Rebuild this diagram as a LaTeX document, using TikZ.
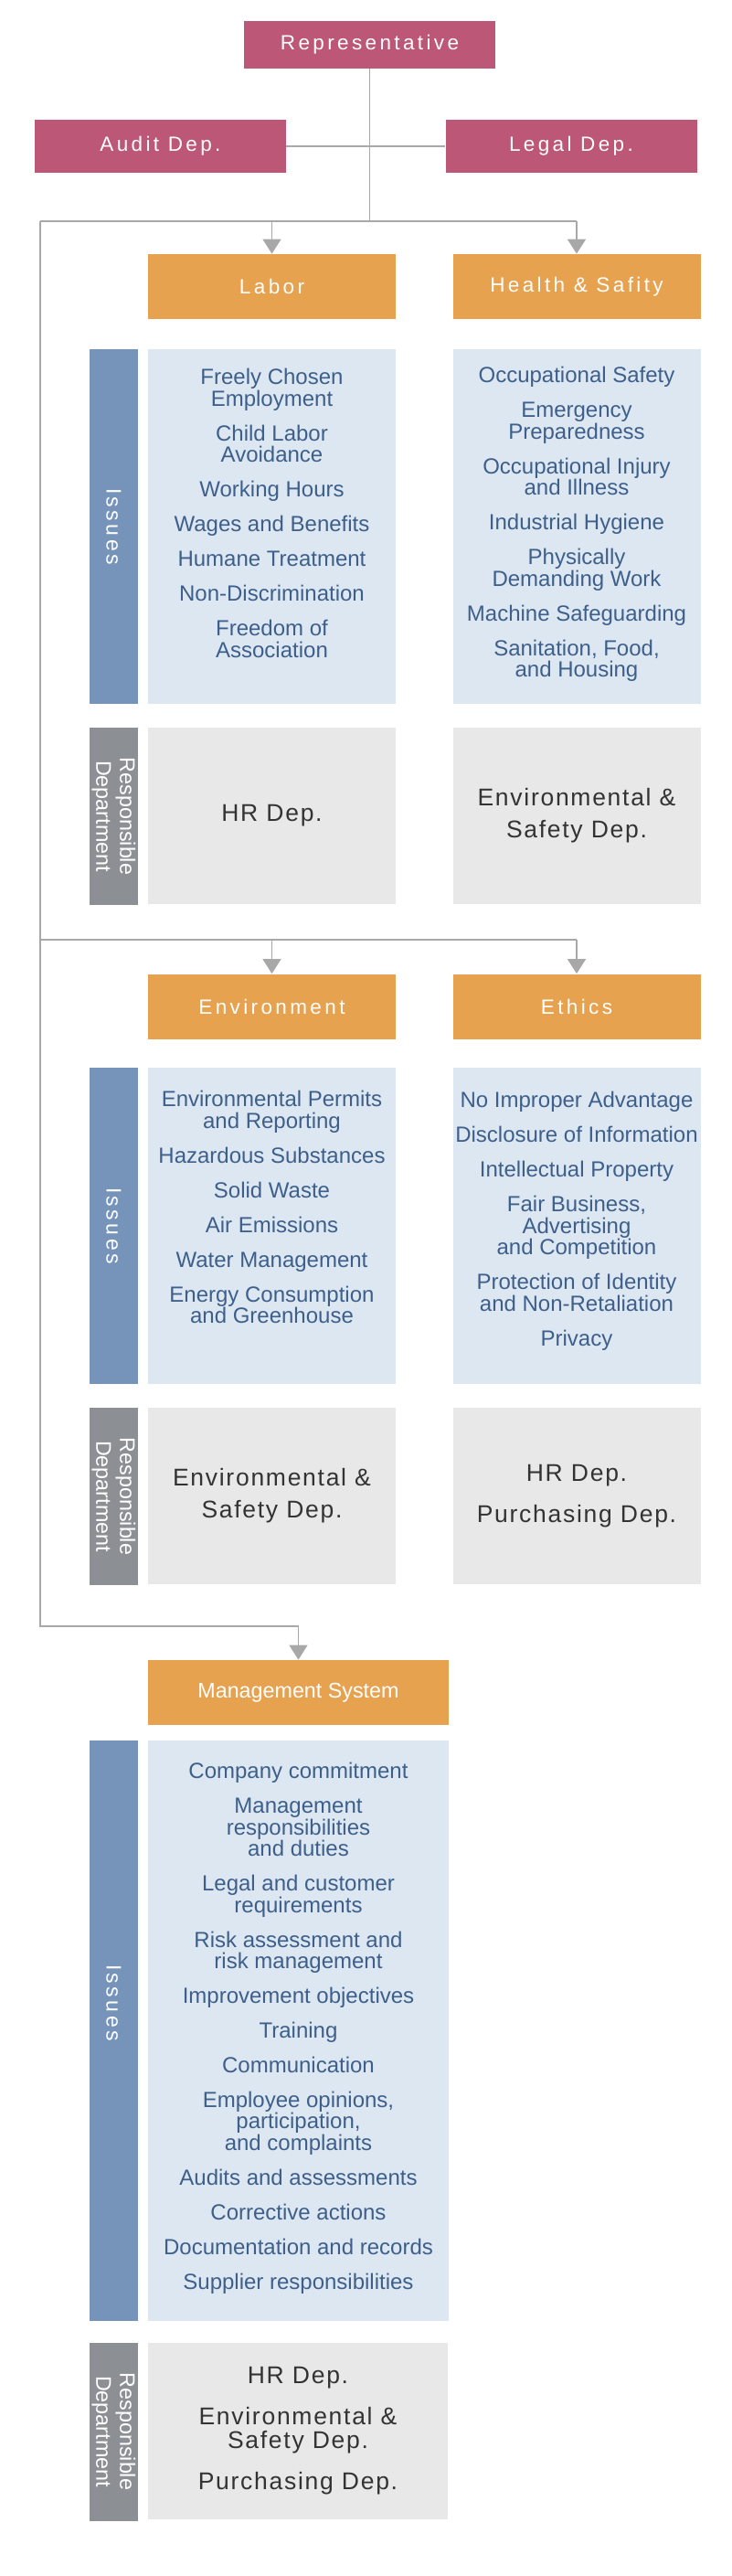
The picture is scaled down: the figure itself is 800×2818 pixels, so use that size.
\documentclass[tikz,border=0pt]{standalone}
\usepackage{fontspec}
\setmainfont{Liberation Sans}
\newfontfamily\headfont{Liberation Sans}[LetterSpace=15]
\newfontfamily\deptfont{Liberation Sans}[LetterSpace=6.5]
\usetikzlibrary{positioning, arrows.meta, calc}
\definecolor{repred}{RGB}{189,87,119}
\definecolor{toporange}{RGB}{230,162,79}
\definecolor{barblue}{RGB}{118,148,186}
\definecolor{issueblue}{RGB}{220,231,242}
\definecolor{itemblue}{RGB}{61,95,138}
\definecolor{bargray}{RGB}{140,144,149}
\definecolor{deptgray}{RGB}{232,232,232}
\definecolor{depttext}{RGB}{51,51,51}
\definecolor{linegray}{RGB}{168,168,168}
\newcommand{\itemgap}{\\[7.3pt]}

\begin{document}
\begin{tikzpicture}[x=0.5pt, y=-0.5pt,
		redbox/.style={fill=repred, text=white, inner sep=0pt, minimum width=137.5pt, font=\headfont\fontsize{11.25pt}{13pt}\selectfont},
		headbox/.style={fill=toporange, text=white, inner sep=0pt, minimum width=135.5pt, minimum height=35.5pt, font=\headfont\fontsize{11.25pt}{13pt}\selectfont},
		issuebar/.style={fill=barblue, text=white, rotate=-90, inner sep=0pt, minimum height=26.25pt, font=\headfont\fontsize{11.5pt}{13pt}\selectfont},
		barlabel/.style={text=white, rotate=-90, inner sep=0pt, font=\headfont\fontsize{11.5pt}{13pt}\selectfont},
		respbar/.style={fill=bargray, text=white, rotate=-90, inner sep=0pt, minimum height=26.25pt, align=center, font=\fontsize{11.65pt}{13pt}\selectfont},
		issuebox/.style={fill=issueblue, inner sep=0pt, minimum width=135.5pt},
		itemlist/.style={text=itemblue, anchor=north, inner sep=0pt, align=center, font=\fontsize{12pt}{11.7pt}\selectfont},
		deptbox/.style={fill=deptgray, text=depttext, inner sep=0pt, minimum width=135.5pt, minimum height=96.5pt, align=center, font=\deptfont\fontsize{13.25pt}{13pt}\selectfont},
		link/.style={draw=linegray, line width=0.75pt},
		flow/.style={link, -{Triangle[width=10pt, length=8pt]}}
	]
		\fill[white] (0,0) rectangle (800,2818);
		\useasboundingbox (0,0) rectangle (800,2818);
		% top of the chart
		\node[redbox, minimum height=26pt] (rep) at (404.5,49) {Representative};
		\node[redbox, minimum height=29pt] (audit) at (175.5,160) {Audit Dep.};
		\node[redbox, minimum height=29pt] (legal) at (625,160) {Legal Dep.};
		\coordinate (hub) at (404.5,242);
		\coordinate (railtop) at (44,242);
		\coordinate (railmid) at (44,1028);
		\coordinate (railbot) at (44,1779);
		% first row
		\node[headbox] (labor) at (297.5,313.5) {Labor};
		\node[headbox] (health) at (631,313.5) {Health \& Safity};
		\node[issuebar, minimum width=194pt] (issbar1) at (124.5,576) {Issues};
		\node[issuebox, minimum height=194pt] (laboriss) at (297.5,576) {};
		\node[issuebox, minimum height=194pt] (healthiss) at (631,576) {};
		\node[itemlist] (laboritems) at (297.5,403) {Freely Chosen\\Employment\itemgap Child Labor\\Avoidance\itemgap Working Hours\itemgap Wages and Benefits\itemgap Humane Treatment\itemgap Non-Discrimination\itemgap Freedom of\\Association};
		\node[itemlist] (healthitems) at (631,401) {Occupational Safety\itemgap Emergency\\Preparedness\itemgap Occupational Injury\\and Illness\itemgap Industrial Hygiene\itemgap Physically\\Demanding Work\itemgap Machine Safeguarding\itemgap Sanitation, Food,\\and Housing};
		\node[respbar, minimum width=97pt] (respbar1) at (124.5,893) {Responsible\\Department};
		\node[deptbox] (labordep) at (297.5,892.5) {HR Dep.};
		\node[deptbox] (healthdep) at (631,892.5) {Environmental \&\\[4.5pt]Safety Dep.};
		% second row
		\node[headbox] (env) at (297.5,1101) {Environment};
		\node[headbox] (ethics) at (631,1101) {Ethics};
		\node[issuebar, minimum width=173pt] (issbar2) at (124.5,1341) {Issues};
		\node[issuebox, minimum height=173pt] (enviss) at (297.5,1341) {};
		\node[issuebox, minimum height=173pt] (ethicsiss) at (631,1341) {};
		\node[itemlist] (envitems) at (297.5,1193) {Environmental Permits\\and Reporting\itemgap Hazardous Substances\itemgap Solid Waste\itemgap Air Emissions\itemgap Water Management\itemgap Energy Consumption\\and Greenhouse};
		\node[itemlist] (ethicsitems) at (631,1194) {No Improper Advantage\itemgap Disclosure of Information\itemgap Intellectual Property\itemgap Fair Business,\\Advertising\\and Competition\itemgap Protection of Identity\\and Non-Retaliation\itemgap Privacy};
		\node[respbar, minimum width=97pt] (respbar2) at (124.5,1637) {Responsible\\Department};
		\node[deptbox] (envdep) at (297.5,1636.5) {Environmental \&\\[4.5pt]Safety Dep.};
		\node[deptbox] (ethicsdep) at (631,1636.5) {HR Dep.\\[9.5pt]Purchasing Dep.};
		% management system
		\node[headbox, minimum width=164.5pt, font=\fontsize{11.65pt}{13pt}\selectfont] (mgmt) at (326.5,1851.5) {Management System};
		\node[issuebar, minimum width=317.5pt] (issbar3) at (124.5,2221.5) {};
		\node[barlabel] (issbar3text) at (124.5,2191) {Issues};
		\node[issuebox, minimum width=164.5pt, minimum height=317.5pt] (mgmtiss) at (326.5,2221.5) {};
		\node[itemlist] (mgmtitems) at (326.5,1928) {Company commitment\itemgap Management\\responsibilities\\and duties\itemgap Legal and customer\\requirements\itemgap Risk assessment and\\risk management\itemgap Improvement objectives\itemgap Training\itemgap Communication\itemgap Employee opinions,\\participation,\\and complaints\itemgap Audits and assessments\itemgap Corrective actions\itemgap Documentation and records\itemgap Supplier responsibilities};
		\node[respbar, minimum width=97.5pt] (respbar3) at (124.5,2660) {Responsible\\Department};
		\node[deptbox, minimum width=164pt] (mgmtdep) at (326,2659.5) {HR Dep.\\[9.5pt]Environmental \&\\Safety Dep.\\[9.5pt]Purchasing Dep.};
		% connectors
		\draw[link] (rep.south) -- (hub);
		\draw[link] (audit.east) -- (legal.west);
		\draw[link] (railtop) -- (railtop -| health);
		\draw[flow] (labor |- railtop) -- (labor.north);
		\draw[flow] (health |- railtop) -- (health.north);
		\draw[link] (railmid) -- (railmid -| ethics);
		\draw[flow] (env |- railmid) -- (env.north);
		\draw[flow] (ethics |- railmid) -- (ethics.north);
		\draw[flow] (railtop) -- (railbot) -| (mgmt.north);
	\end{tikzpicture}
\end{document}
